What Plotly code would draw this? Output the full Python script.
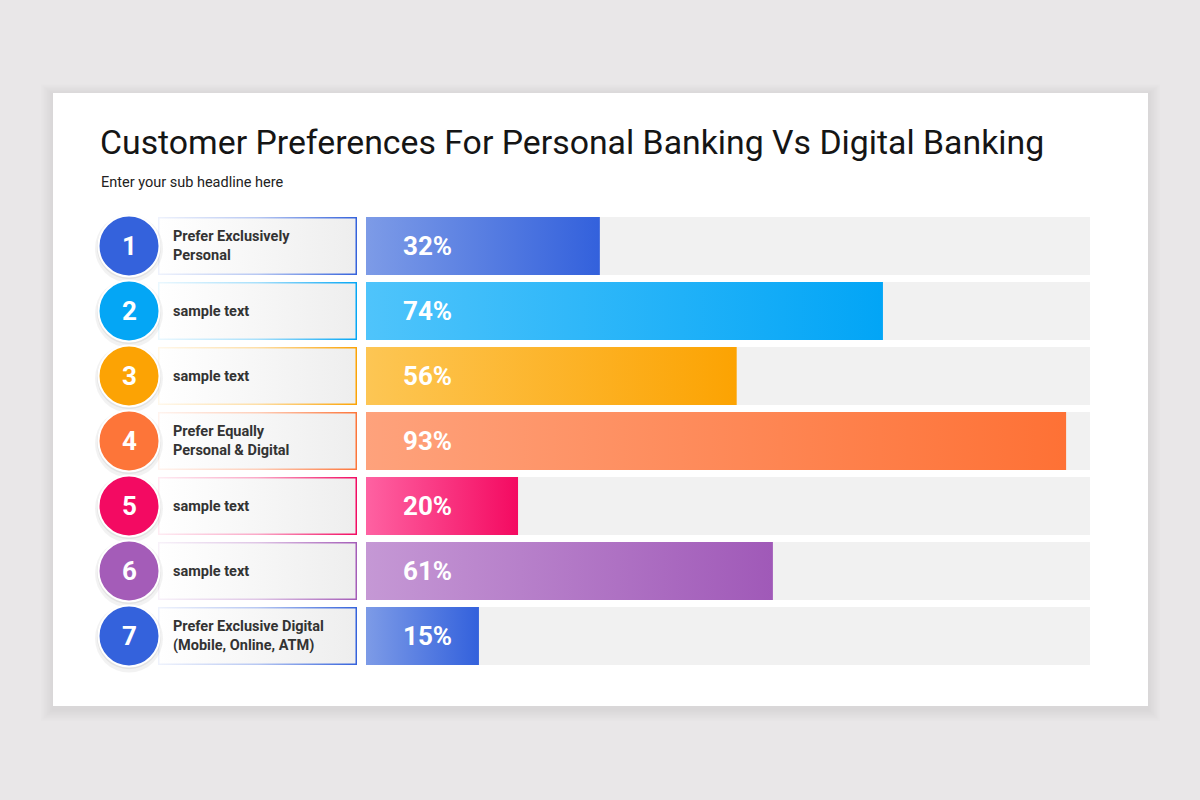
import plotly.graph_objects as go

# row data, top to bottom
numbers = ["1", "2", "3", "4", "5", "6", "7"]
labels = ["Prefer Exclusively<br>Personal", "sample text", "sample text",
          "Prefer Equally<br>Personal & Digital", "sample text", "sample text",
          "Prefer Exclusive Digital<br>(Mobile, Online, ATM)"]
pct_text = [32, 74, 56, 93, 20, 61, 15]
# bar lengths as drawn in the picture (percent of the track)
bar_len = [32.3, 71.4, 51.2, 96.7, 21.0, 56.2, 15.6]

light = ["#7d9be7", "#4fc4fb", "#fdc654", "#fea27c", "#fe62a2", "#c598d5", "#7d9be7"]
dark = ["#3361dc", "#02a5f6", "#fca302", "#fe7135", "#f40a61", "#a059b8", "#3361dc"]
circle_col = ["#3462dc", "#04a6f5", "#fca304", "#fd7539", "#f30a62", "#a45cb8", "#3462dc"]

W, H = 1200, 800
HALF = 0.446  # half bar height in row units


def px(x):
    return x / W


def py(y):
    return 1 - y / H


def rgba(hexc, a):
    h = hexc.lstrip("#")
    r, g, b = int(h[0:2], 16), int(h[2:4], 16), int(h[4:6], 16)
    return f"rgba({r},{g},{b},{a})"


def rect(x0, x1, y, half):
    return [x0, x1, x1, x0, x0], [y - half, y - half, y + half, y + half, y - half]


fig = go.Figure()

for i in range(len(numbers)):
    # grey track
    xs, ys = rect(0, 100, i, HALF)
    fig.add_trace(go.Scatter(x=xs, y=ys, fill="toself", fillcolor="#f1f1f1",
                             mode="lines", line=dict(width=0), hoverinfo="skip"))
    # coloured bar
    xs, ys = rect(0, bar_len[i], i, HALF)
    fig.add_trace(go.Scatter(x=xs, y=ys, fill="toself", mode="lines", line=dict(width=0),
                             fillgradient=dict(type="horizontal",
                                               colorscale=[[0, light[i]], [1, dark[i]]]),
                             hoverinfo="skip"))
    # label box: gradient border + inner fill
    xs, ys = rect(158, 357, i, HALF)
    fig.add_trace(go.Scatter(x=xs, y=ys, xaxis="x2", fill="toself", mode="lines",
                             line=dict(width=0),
                             fillgradient=dict(type="horizontal",
                                               colorscale=[[0, rgba(circle_col[i], 0.08)],
                                                           [0.5, rgba(circle_col[i], 0.35)],
                                                           [1, circle_col[i]]]),
                             hoverinfo="skip"))
    xs, ys = rect(159.5, 355.5, i, HALF - 1.5 / 65)
    fig.add_trace(go.Scatter(x=xs, y=ys, xaxis="x2", fill="toself", mode="lines",
                             line=dict(width=0),
                             fillgradient=dict(type="horizontal",
                                               colorscale=[[0, "#ffffff"], [1, "#eeeeee"]]),
                             hoverinfo="skip"))

# circle shadows and circles
rows = list(range(len(numbers)))
fig.add_trace(go.Scatter(x=[129] * 7, y=[r + 0.04 for r in rows], xaxis="x2", mode="markers",
                         marker=dict(size=68, color="rgba(0,0,0,0.05)", line=dict(width=0)),
                         cliponaxis=False, hoverinfo="skip"))
fig.add_trace(go.Scatter(x=[129] * 7, y=[r + 0.02 for r in rows], xaxis="x2", mode="markers",
                         marker=dict(size=64, color="rgba(0,0,0,0.06)", line=dict(width=0)),
                         cliponaxis=False, hoverinfo="skip"))
fig.add_trace(go.Scatter(x=[129] * 7, y=rows, xaxis="x2", mode="markers",
                         marker=dict(size=61, color=circle_col, line=dict(width=2, color="#ffffff")),
                         cliponaxis=False, hoverinfo="skip"))

annotations = []
for i in range(len(numbers)):
    annotations.append(dict(x=129, y=i, xref="x2", yref="y", text=numbers[i],
                            showarrow=False, xanchor="center", yanchor="middle",
                            font=dict(family="Roboto", size=26, color="#ffffff", weight="bold")))
    annotations.append(dict(x=171, y=i, xref="x2", yref="y", text=labels[i],
                            showarrow=False, xanchor="left", yanchor="middle", align="left",
                            font=dict(family="Roboto", size=14.5, color="#333333", weight="bold")))
    annotations.append(dict(x=4.8, y=i, xref="x", yref="y", text=f"{pct_text[i]}%",
                            showarrow=False, xanchor="left", yanchor="middle",
                            font=dict(family="Roboto", size=26, color="#ffffff", weight="bold")))

annotations.append(dict(x=px(98), y=py(142), xref="paper", yref="paper",
                        text="Customer Preferences For Personal Banking Vs Digital Banking",
                        showarrow=False, xanchor="left", yanchor="middle",
                        font=dict(family="Roboto", size=33.8, color="#151515")))
annotations.append(dict(x=px(99), y=py(182), xref="paper", yref="paper",
                        text="Enter your sub headline here",
                        showarrow=False, xanchor="left", yanchor="middle",
                        font=dict(family="Roboto", size=14.5, color="#222222")))

# white card with soft shadow
shapes = []
for k in range(8, 0, -1):
    shapes.append(dict(type="rect", xref="paper", yref="paper", layer="below",
                       x0=px(53 - k * 1.5), x1=px(1148 + k * 1.5),
                       y0=py(706 + 3 + k * 1.5), y1=py(93 + 1 - k * 1.2),
                       fillcolor="rgba(0,0,0,0.007)", line=dict(width=0)))
shapes.append(dict(type="rect", xref="paper", yref="paper", layer="below",
                   x0=px(53), x1=px(1148), y0=py(706), y1=py(93),
                   fillcolor="#ffffff", line=dict(width=0)))

top = 246 - 32.5
bottom = 636 + 32.5
fig.update_layout(
    width=W, height=H,
    margin=dict(l=0, r=0, t=0, b=0),
    paper_bgcolor="#e9e7e8",
    plot_bgcolor="rgba(0,0,0,0)",
    showlegend=False,
    hovermode=False,
    shapes=shapes,
    annotations=annotations,
    xaxis=dict(domain=[px(366), px(1090)], range=[0, 100], visible=False, fixedrange=True),
    xaxis2=dict(domain=[0, px(360)], range=[0, 360], anchor="y", visible=False, fixedrange=True),
    yaxis=dict(domain=[py(bottom), py(top)], range=[6.5, -0.5], visible=False, fixedrange=True),
)

# drop the page margin so the figure fills the window
fig.write_html("out.html", config={"displayModeBar": False},
               post_script="document.body.style.margin='0';document.body.style.overflow='hidden';")
